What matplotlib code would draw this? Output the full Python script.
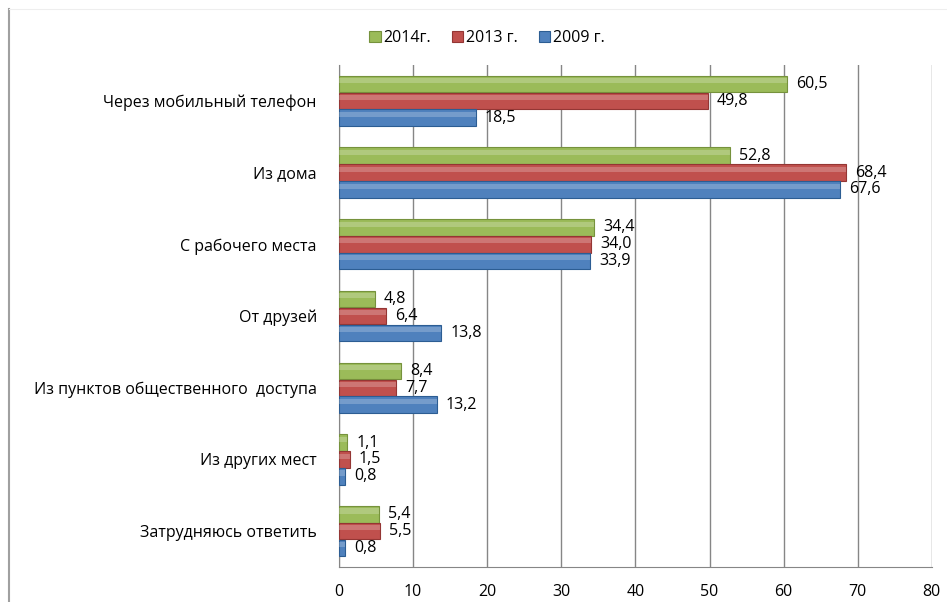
import matplotlib.pyplot as plt
import numpy as np

plt.rcParams['font.family'] = ['Open Sans', 'DejaVu Sans']

categories = ['Через мобильный телефон', 'Из дома', 'С рабочего места', 'От друзей',
              'Из пунктов общественного  доступа', 'Из других мест', 'Затрудняюсь ответить']
v2014 = [60.5, 52.8, 34.4, 4.8, 8.4, 1.1, 5.4]
v2013 = [49.8, 68.4, 34.0, 6.4, 7.7, 1.5, 5.5]
v2009 = [18.5, 67.6, 33.9, 13.8, 13.2, 0.8, 0.8]
series = [('2014г.', v2014, '#9BBB59', '#76923C'),
          ('2013 г.', v2013, '#C0504D', '#943634'),
          ('2009 г.', v2009, '#4F81BD', '#2C5D93')]

fig = plt.figure(figsize=(9.47, 6.02), dpi=100)
ax = fig.add_axes([0.358, 0.058, 0.626, 0.834])

y = np.arange(len(categories))
h = 0.235
for i, (name, vals, col, edge) in enumerate(series):
    pos = y + (i - 1) * h
    ax.barh(pos, vals, height=h * 0.98, color=col, edgecolor=edge, linewidth=0.8,
            label=name, zorder=3)
    # glossy highlight
    ax.barh(pos - h * 0.2, vals, height=h * 0.3, color='white', alpha=0.22,
            linewidth=0, zorder=4)
    for p, v in zip(pos, vals):
        ax.text(v + 1.2, p, f'{v:.1f}'.replace('.', ','), va='center', ha='left',
                fontsize=11.5, color='#000000', zorder=5)

ax.set_ylim(len(categories) - 0.5, -0.5)
ax.set_xlim(0, 80)
ax.set_xticks(np.arange(0, 81, 10))
ax.set_yticks(y)
ax.set_yticklabels(categories, fontsize=11.5)
ax.tick_params(axis='y', length=0, pad=16)
ax.tick_params(axis='x', length=0, pad=12, labelsize=11.5)
ax.grid(axis='x', color='#868686', linewidth=1, zorder=0)
for s in ['top', 'right']:
    ax.spines[s].set_visible(False)
for s in ['left', 'bottom']:
    ax.spines[s].set_color('#868686')

ax.legend(loc='center', bbox_to_anchor=(0.25, 1.054), ncol=3, frameon=False,
          fontsize=11.5, handlelength=0.7, handleheight=0.7, handletextpad=0.2,
          columnspacing=1.3)

# outer frame lines of the original chart
fig.add_artist(plt.Line2D([0.009, 0.009], [0, 0.985], color='#A0A0A0', linewidth=1.5))
fig.add_artist(plt.Line2D([0.009, 1.0], [0.985, 0.985], color='#EEEEEE', linewidth=0.8))

fig.savefig('out.png', dpi=100)
